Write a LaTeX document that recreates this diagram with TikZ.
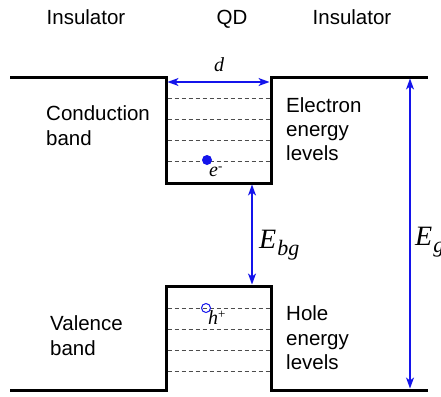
\documentclass[tikz,border=0pt]{standalone}
\usepackage{fontspec}
\setmainfont{Liberation Sans}
\newfontfamily\mathserif{Liberation Serif}
\usetikzlibrary{arrows.meta}
\definecolor{arrowblue}{RGB}{20,20,235}
\tikzset{
  band/.style={line width=3pt, line join=miter},
  level/.style={draw=black!70, line width=0.9pt, dash pattern=on 4pt off 3pt},
  dimarrow/.style={draw=arrowblue, line width=1.1pt, {Stealth[length=11pt,width=8pt,inset=3pt]}-{Stealth[length=11pt,width=8pt,inset=3pt]}},
  lbl/.style={font=\fontsize{20.5}{24}\selectfont, align=left, inner sep=0pt, anchor=base west},
  mlbl/.style={font=\mathserif\itshape, inner sep=0pt}
}
\begin{document}
\begin{tikzpicture}[x=1pt,y=-1pt]
\useasboundingbox (0,0) rectangle (441,396);
% band edges
\draw[band] (10,77) -- (166,77) -- (166,183) -- (271,183) -- (271,77) -- (428,77);
\draw[band] (10,390) -- (166,390) -- (166,286) -- (271,286) -- (271,390) -- (428,390);
% levels
\foreach \y in {98,119,140,161} \draw[level] (167.5,\y) -- (269.5,\y);
\foreach \y in {308,329,350,371} \draw[level] (167.5,\y) -- (269.5,\y);
% headings
\node[lbl, anchor=base] (ins1) at (86,25) {Insulator};
\node[lbl, anchor=base] (qd) at (232,25) {QD};
\node[lbl, anchor=base] (ins2) at (352,25) {Insulator};
% side labels
\node[lbl] (cb1) at (46,120) {Conduction};
\node[lbl] (cb2) at (46,145) {band};
\node[lbl] (el1) at (286,112) {Electron};
\node[lbl] (el2) at (286,136) {energy};
\node[lbl] (el3) at (286,160) {levels};
\node[lbl] (vb1) at (50,330) {Valence};
\node[lbl] (vb2) at (50,355) {band};
\node[lbl] (hl1) at (286,320) {Hole};
\node[lbl] (hl2) at (286,345) {energy};
\node[lbl] (hl3) at (286,369) {levels};
% carriers
\node[circle, fill=arrowblue, minimum size=10pt, inner sep=0pt] (elec) at (207,160) {};
\node[mlbl, font=\mathserif\itshape\fontsize{20}{22}\selectfont, anchor=base west] (elab) at (209,176) {e\raisebox{6pt}{\fontsize{13}{14}\selectfont\upshape -}};
\node[circle, draw=arrowblue, line width=1pt, minimum size=9pt, inner sep=0pt] (hole) at (206,308) {};
\node[mlbl, font=\mathserif\itshape\fontsize{20}{22}\selectfont, anchor=base west] (hlab) at (208,324) {h\raisebox{6pt}{\fontsize{13}{14}\selectfont\upshape +}};
% dimension arrows
\coordinate (dL) at (167.5,82);
\coordinate (dR) at (269.5,82);
\draw[dimarrow] (dL) -- (dR);
\node[mlbl, font=\mathserif\itshape\fontsize{20}{22}\selectfont] (dlab) at (219,65) {d};
\coordinate (bgT) at (252,184.5);
\coordinate (bgB) at (252,284.5);
\draw[dimarrow] (bgT) -- (bgB);
\node[mlbl, font=\mathserif\itshape\fontsize{28}{30}\selectfont, anchor=base west] (ebg) at (259,248) {E\kern1pt\raisebox{-7pt}{\fontsize{22}{24}\selectfont bg}};
\coordinate (gT) at (410,78.5);
\coordinate (gB) at (410,388.5);
\draw[dimarrow] (gT) -- (gB);
\node[mlbl, font=\mathserif\itshape\fontsize{28}{30}\selectfont, anchor=base west] (eg) at (415,245) {E\kern1pt\raisebox{-7pt}{\fontsize{22}{24}\selectfont g}};
\end{tikzpicture}
\end{document}
